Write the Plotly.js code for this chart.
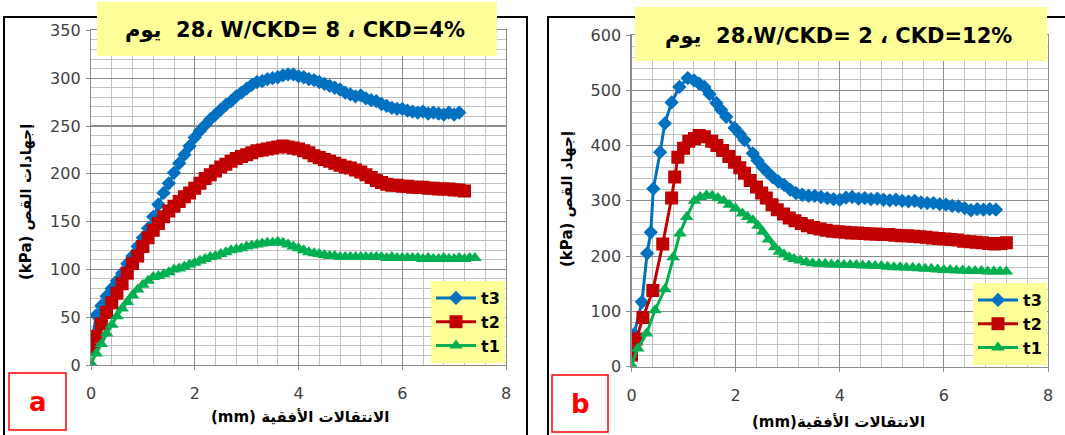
<!DOCTYPE html>
<html>
<head>
<meta charset="utf-8">
<script src="https://cdn.plot.ly/plotly-3.0.1.min.js"></script>
<style>html,body{margin:0;padding:0;background:#fff;}#chart{width:1065px;height:435px;}</style>
</head>
<body>
<div id="chart"></div>
<script>
// ---------- data ----------
const seriesNames = ['t3', 't2', 't1'];
const xTicks = [0, 2, 4, 6, 8];
const yTicksA = [0, 50, 100, 150, 200, 250, 300, 350];
const yTicksB = [0, 100, 200, 300, 400, 500, 600];

// chart a : horizontal displacement (mm)
const aX = [0,0.1,0.2,0.3,0.4,0.5,0.6,0.7,0.8,0.9,1.0,1.1,1.2,1.3,1.4,1.5,1.6,1.7,1.8,1.9,
  2.0,2.1,2.2,2.3,2.4,2.5,2.6,2.7,2.8,2.9,3.0,3.1,3.2,3.3,3.4,3.5,3.6,3.7,3.8,3.9,
  4.0,4.1,4.2,4.3,4.4,4.5,4.6,4.7,4.8,4.9,5.0,5.1,5.2,5.3,5.4,5.5,5.6,5.7,5.8,5.9,
  6.0,6.1,6.2,6.3,6.4,6.5,6.6,6.7,6.8,6.9,7.0,7.1,7.2,7.3,7.4];
const aT3 = [18,52,62,72,80,88,96,106,114,124,133,143,155,168,180,190,201,211,220,229,
  238,245,251,257,262,267,272,276,281,285,289,293,296,297,299,300,301,303,304,304,
  302,301,299,298,296,294,292,290,288,285,283,281,282,279,277,276,273,271,269,268,
  268,266,265,264,265,263,264,263,262,264,262,264];
const aT2 = [16,30,43,55,65,75,85,96,106,114,124,133,141,148,155,161,166,171,176,180,
  185,190,195,199,203,207,210,213,216,218,220,222,224,225,226,227,228,229,228,227,
  226,224,222,219,217,215,213,211,209,207,206,204,202,199,196,193,191,189,188,188,
  187,187,186,186,186,185,185,184,184,184,183,183,182];
const aT1 = [2,12,22,33,42,51,59,66,73,79,84,88,92,93,95,97,100,101,103,105,
  107,109,111,113,114,116,118,120,121,122,124,125,126,127,128,128,129,128,126,124,
  122,120,118,117,116,115,114,114,113,113,113,113,113,113,113,113,113,112,113,112,
  112,112,112,112,111,112,111,111,112,111,111,112,111,112,112];

// chart b
const bX3 = [0,0.05,0.2,0.3,0.37,0.42,0.55,0.64,0.77,0.92,1.08,1.2,1.3,1.4,1.5,1.63,1.72,1.82,1.98,2.08,
  2.17,2.33,2.42,2.52,2.62,2.71,2.82,2.93,3.05,3.16,3.28,3.4,3.52,3.64,3.76,3.88,4.0,4.12,4.24,4.36,
  4.48,4.6,4.72,4.84,4.96,5.08,5.2,5.32,5.44,5.56,5.68,5.8,5.92,6.04,6.16,6.28,6.4,6.52,6.64,6.76,6.88,7.0];
const bT3 = [32,59,117,205,243,322,388,440,478,506,522,518,512,506,493,477,465,452,432,421,
  410,386,373,361,351,343,335,329,320,314,311,309,309,307,305,303,302,306,307,304,
  305,303,304,302,301,302,300,299,300,297,296,296,294,293,291,290,287,283,285,284,285,284];
const bX2 = [0,0.09,0.22,0.41,0.6,0.77,0.83,0.89,1.0,1.1,1.21,1.3,1.4,1.54,1.64,1.75,1.87,1.98,2.08,2.17,
  2.28,2.4,2.5,2.59,2.7,2.8,2.92,3.03,3.14,3.26,3.38,3.5,3.62,3.74,3.86,3.98,4.1,4.22,4.34,4.46,
  4.58,4.7,4.82,4.94,5.06,5.18,5.3,5.42,5.54,5.66,5.78,5.9,6.02,6.14,6.26,6.38,6.5,6.62,6.74,6.86,6.98,7.1,7.2];
const bT2 = [21,50,89,138,222,305,343,379,395,408,413,418,416,408,400,391,380,370,360,350,
  337,325,314,305,293,284,276,269,264,259,255,252,249,247,245,244,243,242,242,241,
  240,240,239,239,238,237,237,236,235,234,233,232,231,230,229,227,226,225,224,223,222,223,224];
const bX1 = [0,0.12,0.29,0.45,0.64,0.8,0.93,1.06,1.21,1.32,1.44,1.55,1.66,1.77,1.88,2.0,2.13,2.23,2.33,2.43,
  2.52,2.63,2.75,2.84,2.93,3.03,3.12,3.24,3.36,3.48,3.6,3.72,3.84,3.96,4.08,4.2,4.32,4.44,4.56,4.68,
  4.8,4.92,5.04,5.16,5.28,5.4,5.52,5.64,5.76,5.88,6.0,6.12,6.24,6.36,6.48,6.6,6.72,6.84,6.96,7.08,7.2];
const bT1 = [3,33,60,102,140,198,241,271,300,307,310,309,305,300,293,286,277,271,265,255,
  244,230,216,208,203,198,195,192,189,187,186,186,185,185,184,184,184,183,183,182,
  182,181,180,180,179,179,178,177,177,176,175,175,174,174,173,173,173,172,172,172,172];

const titleA = 'يوم\u200E  28\u200E، W/CKD= 8 ، CKD=4%';
const titleB = 'يوم\u200E  28\u200E،W/CKD= 2 ، CKD=12%';
const yTitleA = '(kPa) إجهادات القص';
const yTitleB = '(kPa) إجهاد القص';
const xTitleA = '(mm) الانتقالات الأفقية';
const xTitleB = '(mm)الانتقالات الأفقية';

// ---------- styling ----------
const W = 1065, H = 435;
const px = v => v / W;
const py = v => 1 - v / H;
const FONT = 'DejaVu Sans, Noto Sans, sans-serif';
const colors = ['#0070C0', '#C00000', '#00B050'];
const symbols = ['diamond', 'square', 'triangle-up'];
const sizes = [11, 13, 12];

function mk(x, y, i, xa, ya, leg) {
  return {
    x: x, y: y, type: 'scatter', mode: 'lines+markers', name: seriesNames[i],
    xaxis: xa, yaxis: ya, legend: leg,
    line: {color: colors[i], width: 3},
    marker: {symbol: symbols[i], size: sizes[i], color: colors[i]},
    hoverinfo: 'skip'
  };
}

const traces = [
  mk(aX, aT3, 0, 'x', 'y', 'legend'),
  mk(aX, aT2, 1, 'x', 'y', 'legend'),
  mk(aX, aT1, 2, 'x', 'y', 'legend'),
  mk(bX3, bT3, 0, 'x2', 'y2', 'legend2'),
  mk(bX2, bT2, 1, 'x2', 'y2', 'legend2'),
  mk(bX1, bT1, 2, 'x2', 'y2', 'legend2')
];

function xax(dom, anchor) {
  return {
    domain: dom, anchor: anchor, range: [0, 8], tickvals: xTicks, ticktext: xTicks.map(String),
    showgrid: true, gridcolor: '#8c8c8c', gridwidth: 1.2,
    minor: {dtick: 0.4, tick0: 0, showgrid: true, gridcolor: '#c2c2c2', gridwidth: 1},
    showline: true, mirror: true, linecolor: '#8c8c8c', linewidth: 1.2,
    ticks: 'outside', ticklen: 4, tickcolor: '#8c8c8c', ticklabelstandoff: 10,
    zeroline: false, fixedrange: true,
    tickfont: {family: FONT, size: 16, color: '#404040'}
  };
}
function yax(dom, anchor, maxv, ticks, minorStep) {
  return {
    domain: dom, anchor: anchor, range: [0, maxv], tickvals: ticks, ticktext: ticks.map(String),
    showgrid: true, gridcolor: '#8c8c8c', gridwidth: 1.2,
    minor: {dtick: minorStep, tick0: 0, showgrid: true, gridcolor: '#c2c2c2', gridwidth: 1},
    showline: true, mirror: true, linecolor: '#8c8c8c', linewidth: 1.2,
    ticks: 'outside', ticklen: 4, tickcolor: '#8c8c8c', ticklabelstandoff: 2,
    zeroline: false, fixedrange: true,
    tickfont: {family: FONT, size: 16, color: '#404040'}
  };
}

const legendStyle = {
  bgcolor: '#FFFF99', borderwidth: 0, traceorder: 'normal', itemwidth: 40,
  font: {family: FONT, size: 16, color: '#000', weight: 'bold'},
  xanchor: 'right', yanchor: 'bottom', tracegroupgap: 0
};

const layout = {
  width: W, height: H, margin: {l: 0, r: 0, t: 0, b: 0},
  paper_bgcolor: '#ffffff', plot_bgcolor: 'rgba(0,0,0,0)',
  showlegend: true,
  xaxis: xax([px(91), px(506)], 'y'),
  yaxis: yax([py(365), py(30.4)], 'x', 350, yTicksA, 10),
  xaxis2: xax([px(631.5), px(1048)], 'y2'),
  yaxis2: yax([py(366.7), py(35)], 'x2', 600, yTicksB, 20),
  legend: Object.assign({}, legendStyle, {x: px(505), y: py(363)}),
  legend2: Object.assign({}, legendStyle, {x: px(1047), y: py(365)}),
  shapes: [
    {type: 'rect', xref: 'paper', yref: 'paper', x0: px(4), x1: px(527), y0: -0.2, y1: py(17), line: {color: '#000', width: 2}, layer: 'above'},
    {type: 'rect', xref: 'paper', yref: 'paper', x0: px(548), x1: 1.2, y0: -0.2, y1: py(17), line: {color: '#000', width: 2}, layer: 'above'},
    {type: 'rect', xref: 'paper', yref: 'paper', x0: px(97), x1: px(497), y0: py(56), y1: py(2), fillcolor: '#FFFF99', line: {width: 0}, layer: 'above'},
    {type: 'rect', xref: 'paper', yref: 'paper', x0: px(635), x1: px(1047), y0: py(61), y1: py(7), fillcolor: '#FFFF99', line: {width: 0}, layer: 'above'},
    {type: 'rect', xref: 'paper', yref: 'paper', x0: px(9), x1: px(66), y0: py(430), y1: py(373), fillcolor: '#ffffff', line: {color: '#FF0000', width: 1.5}, layer: 'above'},
    {type: 'rect', xref: 'paper', yref: 'paper', x0: px(552), x1: px(608), y0: py(432), y1: py(375), fillcolor: '#ffffff', line: {color: '#FF0000', width: 1.5}, layer: 'above'}
  ],
  annotations: [
    {text: '<b>' + titleA + '</b>', xref: 'paper', yref: 'paper', x: px(295), y: py(30), xanchor: 'center', yanchor: 'middle', showarrow: false, font: {family: FONT, size: 21, color: '#000'}},
    {text: '<b>' + titleB + '</b>', xref: 'paper', yref: 'paper', x: px(838), y: py(36), xanchor: 'center', yanchor: 'middle', showarrow: false, font: {family: FONT, size: 21, color: '#000'}},
    {text: '<b>' + yTitleA + '</b>', xref: 'paper', yref: 'paper', x: px(26), y: py(202), xanchor: 'center', yanchor: 'middle', textangle: -90, showarrow: false, font: {family: FONT, size: 15, color: '#000'}},
    {text: '<b>' + yTitleB + '</b>', xref: 'paper', yref: 'paper', x: px(567), y: py(199), xanchor: 'center', yanchor: 'middle', textangle: -90, showarrow: false, font: {family: FONT, size: 15, color: '#000'}},
    {text: '<b>' + xTitleA + '</b>', xref: 'paper', yref: 'paper', x: px(300), y: py(417), xanchor: 'center', yanchor: 'middle', showarrow: false, font: {family: FONT, size: 15, color: '#000'}},
    {text: '<b>' + xTitleB + '</b>', xref: 'paper', yref: 'paper', x: px(838), y: py(422), xanchor: 'center', yanchor: 'middle', showarrow: false, font: {family: FONT, size: 15, color: '#000'}},
    {text: '<b>a</b>', xref: 'paper', yref: 'paper', x: px(37.5), y: py(402), xanchor: 'center', yanchor: 'middle', showarrow: false, font: {family: FONT, size: 26, color: '#FF0000'}},
    {text: '<b>b</b>', xref: 'paper', yref: 'paper', x: px(580), y: py(404), xanchor: 'center', yanchor: 'middle', showarrow: false, font: {family: FONT, size: 26, color: '#FF0000'}}
  ]
};

Plotly.newPlot('chart', traces, layout, {displayModeBar: false, staticPlot: true});
</script>
</body>
</html>
